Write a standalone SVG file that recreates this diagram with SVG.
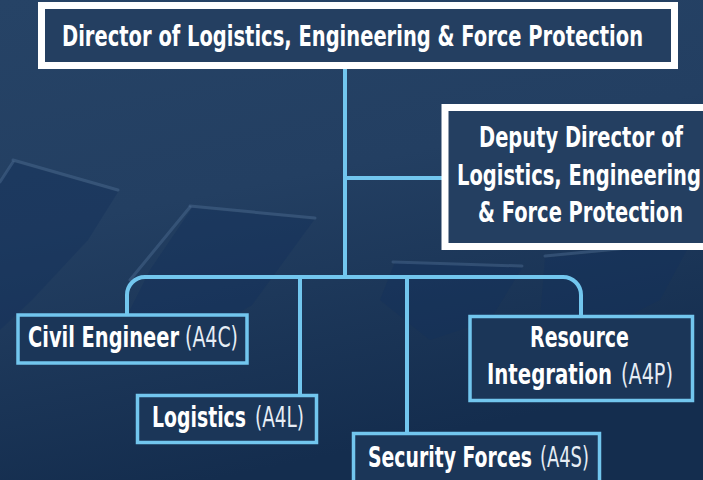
<svg xmlns="http://www.w3.org/2000/svg" width="703" height="480" viewBox="0 0 703 480">
  <defs>
    <linearGradient id="bg" x1="0" y1="0" x2="0.3" y2="1">
      <stop offset="0" stop-color="#264366"/>
      <stop offset="0.45" stop-color="#233f62"/>
      <stop offset="1" stop-color="#142d4e"/>
    </linearGradient>
    <style>
      .lead { fill: #243f61; stroke: #ffffff; stroke-width: 7; }
      .unit { fill: #1b3658; stroke: #72c6ee; stroke-width: 3.5; }
      .wire { fill: none; stroke: #72c6ee; stroke-width: 4; }
      .bold { font-family: "Liberation Sans Narrow", "DejaVu Sans Condensed", "Liberation Sans", sans-serif; font-weight: bold; font-size: 28px; fill: #ffffff; }
      .code { font-family: "Liberation Sans Narrow", "DejaVu Sans Condensed", "Liberation Sans", sans-serif; font-weight: normal; font-size: 28px; fill: #e6edf5; }
      .panel { fill: #14305a; opacity: 0.45; }
      .rim { fill: none; stroke: #4d6d93; stroke-width: 3; opacity: 0.45; stroke-linecap: round; }
    </style>
  </defs>

  <!-- backdrop: dark slanted canopies with pale rims -->
  <rect width="703" height="480" fill="url(#bg)"/>
  <g id="backdrop">
    <polygon class="panel" points="13,162 118,192 88,240 32,300 0,330 0,182"/>
    <path class="rim" d="M13,160 L118,190"/>
    <path class="rim" d="M13,162 L0,182"/>
    <polygon class="panel" points="192,208 314,220 252,305 210,330 150,350 120,330 150,270"/>
    <path class="rim" d="M190,206 L315,218"/>
    <path class="rim" d="M190,207 L130,280"/>
    <polygon class="panel" points="395,262 522,268 490,320 430,340 380,300"/>
    <path class="rim" d="M393,262 L522,266"/>
    <polygon class="panel" points="545,258 690,244 660,300 600,330 540,320"/>
    <path class="rim" d="M545,256 L690,242"/>
  </g>

  <!-- connectors -->
  <g id="connectors">
    <path class="wire" d="M345,69 V277"/>
    <path class="wire" d="M345,178 H442"/>
    <path class="wire" d="M127,314 V295 A18,18 0 0 1 145,277 H563 A18,18 0 0 1 581,295 V315"/>
    <path class="wire" d="M300,277 V394"/>
    <path class="wire" d="M407,277 V432"/>
  </g>

  <!-- labels are set narrow: bold runs at 0.775 width, codes at 0.75 -->
  <g id="director">
    <rect class="lead" x="41.5" y="5.5" width="633" height="60"/>
    <text class="bold" transform="translate(62,46) scale(0.775,1)" textLength="749.7" lengthAdjust="spacingAndGlyphs">Director of Logistics, Engineering &amp;  Force Protection</text>
  </g>

  <g id="deputy-director">
    <rect class="lead" x="445" y="107.5" width="275" height="139"/>
    <text class="bold" transform="translate(479,147) scale(0.775,1)" textLength="263.2" lengthAdjust="spacingAndGlyphs">Deputy Director of</text>
    <text class="bold" transform="translate(457,185) scale(0.775,1)" textLength="314.8" lengthAdjust="spacingAndGlyphs">Logistics, Engineering</text>
    <text class="bold" transform="translate(478,222) scale(0.775,1)" textLength="264.5" lengthAdjust="spacingAndGlyphs">&amp; Force Protection</text>
  </g>

  <g id="civil-engineer">
    <rect class="unit" x="18" y="315" width="229" height="48"/>
    <text class="bold" transform="translate(28,347) scale(0.775,1)" textLength="194.8" lengthAdjust="spacingAndGlyphs">Civil Engineer</text>
    <text class="code" transform="translate(185,347) scale(0.75,1)" textLength="70.7" lengthAdjust="spacingAndGlyphs">(A4C)</text>
  </g>

  <g id="logistics">
    <rect class="unit" x="137.5" y="395.5" width="179" height="47"/>
    <text class="bold" transform="translate(152,427) scale(0.775,1)" textLength="121.3" lengthAdjust="spacingAndGlyphs">Logistics</text>
    <text class="code" transform="translate(255,427) scale(0.75,1)" textLength="65.3" lengthAdjust="spacingAndGlyphs">(A4L)</text>
  </g>

  <g id="security-forces">
    <rect class="unit" x="353.5" y="433.5" width="246" height="60"/>
    <text class="bold" transform="translate(368,467) scale(0.775,1)" textLength="211.6" lengthAdjust="spacingAndGlyphs">Security Forces</text>
    <text class="code" transform="translate(540,467) scale(0.75,1)" textLength="65.3" lengthAdjust="spacingAndGlyphs">(A4S)</text>
  </g>

  <g id="resource-integration">
    <rect class="unit" x="470" y="316.5" width="222.5" height="84"/>
    <text class="bold" transform="translate(530,347) scale(0.775,1)" textLength="127.7" lengthAdjust="spacingAndGlyphs">Resource</text>
    <text class="bold" transform="translate(487,384) scale(0.775,1)" textLength="161.3" lengthAdjust="spacingAndGlyphs">Integration</text>
    <text class="code" transform="translate(621,384) scale(0.75,1)" textLength="69.3" lengthAdjust="spacingAndGlyphs">(A4P)</text>
  </g>
</svg>
